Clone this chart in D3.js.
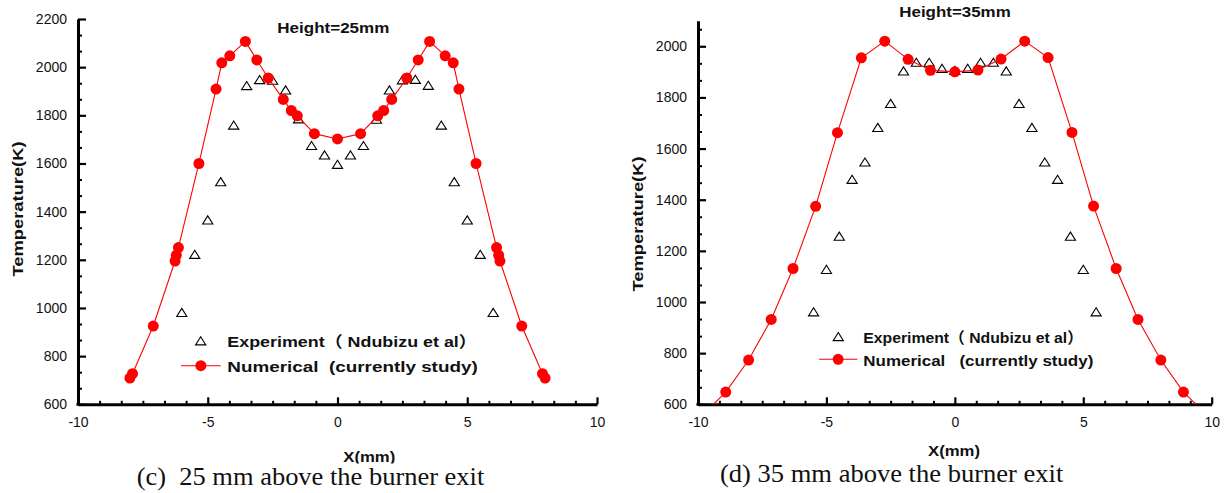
<!DOCTYPE html>
<html>
<head>
<meta charset="utf-8">
<script src="https://cdn.jsdelivr.net/npm/d3@7"></script>
<style>
  html, body { margin: 0; padding: 0; background: #fff; }
  svg { display: block; }
  .tick text { font-family: "Liberation Sans", Arial, sans-serif; font-size: 14px; fill: #111; }
  .bold { font-family: "Liberation Sans", Arial, "Noto Sans CJK SC", sans-serif; font-weight: bold; fill: #111; }
  .cap { font-family: "Liberation Serif", "Times New Roman", serif; fill: #111; }
</style>
</head>
<body>
<svg id="chart" width="1225" height="493"></svg>
<script>
// ---------- data ----------
// Panel (c): Height = 25 mm
const numX25 = [-8.0, -7.9, -7.1, -6.26, -6.21, -6.13, -5.34, -4.68, -4.46, -4.15, -3.55, -3.11, -2.67, -2.09, -1.78, -1.55, -0.89, 0,
                0.89, 1.55, 1.78, 2.09, 2.67, 3.11, 3.55, 4.15, 4.46, 4.68, 5.34, 6.13, 6.21, 6.26, 7.1, 7.9, 8.0];
const numT25 = [709, 727, 925, 1195, 1219, 1251, 1600, 1909, 2018, 2047, 2107, 2030, 1955, 1866, 1820, 1798, 1724, 1702,
                1724, 1798, 1820, 1866, 1955, 2030, 2107, 2047, 2018, 1909, 1600, 1251, 1219, 1195, 925, 727, 709];
const expX25 = [-6, -5.5, -5, -4.5, -4, -3.5, -3, -2.5, -2, -1.5, -1, -0.5, 0, 0.5, 1, 1.5, 2, 2.5, 3, 3.5, 4, 4.5, 5, 5.5, 6];
const expT25 = [981, 1222, 1365, 1524, 1759, 1923, 1948, 1945, 1905, 1785, 1674, 1635, 1596, 1635, 1674, 1783, 1905, 1947, 1949, 1924, 1759, 1524, 1365, 1222, 981];

// Panel (d): Height = 35 mm
const numX35 = [-9.8, -8.92, -8.03, -7.15, -6.3, -5.42, -4.57, -3.64, -2.73, -1.82, -0.95, 0,
                0.9, 1.8, 2.72, 3.63, 4.56, 5.4, 6.28, 7.13, 8.02, 8.9, 9.8];
const numT35 = [560, 648, 773, 932, 1131, 1374, 1662, 1955, 2020, 1949, 1906, 1900,
                1907, 1950, 2020, 1956, 1663, 1375, 1131, 932, 773, 648, 560];
const expX35 = [-5.5, -5, -4.5, -4, -3.5, -3, -2.5, -2, -1.5, -1, -0.5, 0, 0.5, 1, 1.5, 2, 2.5, 3, 3.5, 4, 4.5, 5, 5.5];
const expT35 = [961, 1127, 1257, 1479, 1547, 1682, 1776, 1903, 1937, 1937, 1913, 1905, 1913, 1937, 1937, 1903, 1776, 1682, 1547, 1479, 1257, 1127, 961];

// Axis ticks and labels
const xTicks = [-10, -5, 0, 5, 10];
const yTicks25 = [600, 800, 1000, 1200, 1400, 1600, 1800, 2000, 2200];
const yTicks35 = [600, 800, 1000, 1200, 1400, 1600, 1800, 2000];
const titles = ["Height=25mm", "Height=35mm"];
const legendLabels = [["Experiment（ Ndubizu et al）", "Numerical  (currently study)"],
                      ["Experiment（ Ndubizu et al）", "Numerical   (currently study)"]];
const captions = ["(c)  25 mm above the burner exit", "(d) 35 mm above the burner exit"];
const yLabel = "Temperature(K)";
const xLabel = "X(mm)";

// ---------- drawing ----------
const svg = d3.select("#chart");
const RED = "#ff0000";
const triPath = "M0,-4.2L5.1,3.9L-5.1,3.9Z";

const panels = [
  { id: "p25", left: 78, right: 597, bottom: 404.3, top: 19, yMax: 2200, yTicks: yTicks25,
    numX: numX25, numT: numT25, expX: expX25, expT: expT25, title: titles[0],
    titleX: 277.3, titleY: 32.7, titleLen: 112,
    ylabX: 22.7, ylabY: 209, xlabX: 343.3, xlabY: 461.5,
    legTri: [200.7, 341], legText: 227.3, legY: [347.3, 371.7], legLen: [249.4, 250.4],
    legLine: [181, 220.7, 365.7], legend: legendLabels[0],
    cap: captions[0], capX: 136.7, capY: 485, capLen: 347.6 },
  { id: "p35", left: 698, right: 1211.7, bottom: 404.3, top: 20.7, yMax: 2100, yTicks: yTicks35,
    numX: numX35, numT: numT35, expX: expX35, expT: expT35, title: titles[1],
    titleX: 899.3, titleY: 16.8, titleLen: 111.4,
    ylabX: 643.3, ylabY: 224, xlabX: 928, xlabY: 456,
    legTri: [838.3, 336.7], legText: 863.3, legY: [343.3, 366], legLen: [219.7, 230],
    legLine: [819, 857.3, 359.3], legend: legendLabels[1],
    cap: captions[1], capX: 720, capY: 481.7, capLen: 343.3 }
];

panels.forEach(p => {
  const x = d3.scaleLinear().domain([-10, 10]).range([p.left, p.right]);
  const y = d3.scaleLinear().domain([600, p.yMax]).range([p.bottom, p.top]);
  const g = svg.append("g");

  // clip
  const clipId = "clip-" + p.id;
  svg.append("clipPath").attr("id", clipId).append("rect")
    .attr("x", p.left).attr("y", p.top).attr("width", p.right - p.left).attr("height", p.bottom - p.top);

  // minor ticks
  const xMinor = d3.range(0, 25).map(i => -10 + i * 5 / 6).filter(v => Math.abs(v / 5 - Math.round(v / 5)) > 1e-6);
  const yMinor = d3.range(600, p.yMax + 1, 200 / 3).filter(v => Math.abs(v / 200 - Math.round(v / 200)) > 1e-6);

  g.append("g").attr("transform", `translate(0,${p.bottom})`)
    .call(d3.axisBottom(x).tickValues(xMinor).tickSizeInner(-3.5).tickSizeOuter(0).tickFormat(""))
    .call(a => a.select(".domain").remove())
    .call(a => a.selectAll(".tick line").attr("stroke", "#000").attr("stroke-width", 2));
  g.append("g").attr("transform", `translate(${p.left},0)`)
    .call(d3.axisLeft(y).tickValues(yMinor).tickSizeInner(-4).tickSizeOuter(0).tickFormat(""))
    .call(a => a.select(".domain").remove())
    .call(a => a.selectAll(".tick line").attr("stroke", "#000").attr("stroke-width", 2));

  // major axes
  g.append("g").attr("transform", `translate(0,${p.bottom})`)
    .call(d3.axisBottom(x).tickValues(xTicks).tickSizeInner(-7).tickSizeOuter(0).tickPadding(13).tickFormat(d3.format("d")))
    .call(a => a.select(".domain").attr("stroke", "#000").attr("stroke-width", 3))
    .call(a => a.selectAll(".tick line").attr("stroke", "#000").attr("stroke-width", 2.2))
    .call(a => a.selectAll(".tick text").attr("font-size", null).text(d => d < 0 ? "-" + Math.abs(d) : d));
  g.append("g").attr("transform", `translate(${p.left},0)`)
    .call(d3.axisLeft(y).tickValues(p.yTicks).tickSizeInner(-8).tickSizeOuter(0).tickPadding(11).tickFormat(d3.format("d")))
    .call(a => a.select(".domain").attr("stroke", "#000").attr("stroke-width", 3))
    .call(a => a.selectAll(".tick line").attr("stroke", "#000").attr("stroke-width", 2.2))
    .call(a => a.selectAll(".tick text").attr("font-size", null));
  // corner square
  g.append("rect").attr("x", p.left - 1.5).attr("y", p.bottom - 1.5).attr("width", 3).attr("height", 3).attr("fill", "#000");

  // data
  const plot = g.append("g").attr("clip-path", `url(#${clipId})`);
  const exp = d3.zip(p.expX, p.expT);
  const num = d3.zip(p.numX, p.numT);

  plot.selectAll("path.tri").data(exp).join("path").attr("class", "tri")
    .attr("d", triPath)
    .attr("transform", d => `translate(${x(d[0])},${y(d[1])})`)
    .attr("fill", "none").attr("stroke", "#000").attr("stroke-width", 1.1);

  plot.append("path").datum(num)
    .attr("d", d3.line().x(d => x(d[0])).y(d => y(d[1])))
    .attr("fill", "none").attr("stroke", RED).attr("stroke-width", 1.1);

  plot.selectAll("circle").data(num).join("circle")
    .attr("cx", d => x(d[0])).attr("cy", d => y(d[1])).attr("r", 5.5).attr("fill", RED);

  // title
  g.append("text").attr("class", "bold").attr("x", p.titleX).attr("y", p.titleY)
    .attr("font-size", 15.5).attr("textLength", p.titleLen).attr("lengthAdjust", "spacingAndGlyphs").text(p.title);

  // axis labels
  g.append("text").attr("class", "bold").attr("transform", `translate(${p.ylabX},${p.ylabY}) rotate(-90)`)
    .attr("text-anchor", "middle").attr("font-size", 15.5).attr("textLength", 135)
    .attr("lengthAdjust", "spacingAndGlyphs").text(yLabel);
  g.append("text").attr("class", "bold").attr("x", p.xlabX).attr("y", p.xlabY)
    .attr("font-size", 15.5).attr("textLength", 52).attr("lengthAdjust", "spacingAndGlyphs").text(xLabel);

  // legend
  g.append("path").attr("d", triPath).attr("transform", `translate(${p.legTri[0]},${p.legTri[1]})`)
    .attr("fill", "none").attr("stroke", "#000").attr("stroke-width", 1.1);
  g.append("line").attr("x1", p.legLine[0]).attr("x2", p.legLine[1]).attr("y1", p.legLine[2]).attr("y2", p.legLine[2])
    .attr("stroke", RED).attr("stroke-width", 1.1);
  g.append("circle").attr("cx", (p.legLine[0] + p.legLine[1]) / 2).attr("cy", p.legLine[2]).attr("r", 5.5).attr("fill", RED);
  p.legend.forEach((t, i) => {
    g.append("text").attr("class", "bold").attr("x", p.legText).attr("y", p.legY[i])
      .attr("font-size", 15.5).attr("textLength", p.legLen[i]).attr("lengthAdjust", "spacingAndGlyphs")
      .style("white-space", "pre").text(t);
  });
});

// caption band (covers bottom of left X label like the reference)
svg.append("rect").attr("x", 0).attr("y", 463.5).attr("width", 612).attr("height", 30).attr("fill", "#fff");

panels.forEach(p => {
  svg.append("text").attr("class", "cap").attr("x", p.capX).attr("y", p.capY)
    .attr("font-size", 25).attr("textLength", p.capLen).attr("lengthAdjust", "spacingAndGlyphs")
    .style("white-space", "pre").text(p.cap);
});
</script>
</body>
</html>
